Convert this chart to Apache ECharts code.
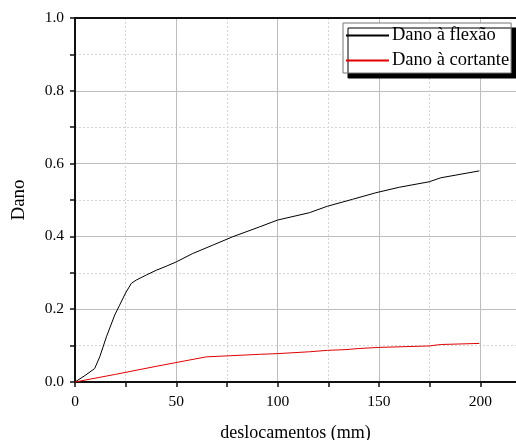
<!DOCTYPE html>
<html><head><meta charset="utf-8">
<script src="https://cdn.jsdelivr.net/npm/echarts@6/dist/echarts.min.js"></script>
<style>html,body{margin:0;padding:0;background:#fff}#c{width:516px;height:440px}</style>
</head><body><div id="c"></div>
<script>
const seriesNames = ['Dano à flexão', 'Dano à cortante'];
const flexao = [[0,0],[5,0.018],[9.7,0.037],[12.2,0.069],[15.5,0.124],[19.6,0.184],[22,0.211],[25,0.245],[27.8,0.271],[30.2,0.28],[35.2,0.294],[40.1,0.307],[45,0.318],[50,0.33],[58.1,0.353],[68,0.376],[77.8,0.399],[91,0.426],[100,0.445],[115.6,0.465],[124.6,0.483],[137,0.502],[148.5,0.52],[160,0.535],[174.7,0.55],[180.5,0.561],[199.5,0.58]];
const cortante = [[0,0],[20,0.021],[40,0.043],[64.7,0.069],[91,0.076],[100,0.078],[115.6,0.083],[124.6,0.087],[133.7,0.089],[140.2,0.092],[149.8,0.095],[174.7,0.099],[180.5,0.103],[199.5,0.106]];
const xTitle = 'deslocamentos (mm)';
const yTitle = 'Dano';

const font = 'Liberation Serif';
const chart = echarts.init(document.getElementById('c'), null, {renderer:'canvas'});
chart.setOption({
  animation:false,
  textStyle:{fontFamily:font},
  grid:{left:75, right:0, top:18, bottom:58, containLabel:false, outerBoundsMode:'none'},
  legend:{
    orient:'vertical', left:343, top:23,
    padding:[3,2,3,2], itemWidth:43, itemHeight:14, itemGap:6,
    backgroundColor:'#fff', borderColor:'#777', borderWidth:1,
    shadowColor:'#000', shadowOffsetX:5, shadowOffsetY:5, shadowBlur:0,
    itemStyle:{opacity:0},
    textStyle:{fontFamily:font, fontSize:18.5, color:'#000', padding:[0,0,0,-2]},
    data: seriesNames
  },
  xAxis:[
    {type:'value', position:'bottom', min:0, max:217.6, interval:25,
     name:xTitle, nameLocation:'middle', nameGap:42,
     nameTextStyle:{fontFamily:font, fontSize:18, color:'#000'},
     axisLine:{show:true, lineStyle:{color:'#111', width:2}},
     axisTick:{show:true, inside:false, length:5, lineStyle:{color:'#111', width:1.5}},
     axisLabel:{fontFamily:font, fontSize:15.5, color:'#000', margin:12, showMaxLabel:false,
       formatter:v=> (Math.abs(v%50)<1e-6 ? String(v) : '')},
     splitLine:{show:true, lineStyle:{color:'#d4d4d4', width:1, type:[2,2]}}
    },
    {type:'value', position:'top', min:0, max:217.6, interval:50,
     axisLine:{show:true, onZero:false, lineStyle:{color:'#111', width:2}},
     axisTick:{show:false}, axisLabel:{show:false},
     splitLine:{show:true, lineStyle:{color:'#bdbdbd', width:1, type:'solid'}}
    }
  ],
  yAxis:[
    {type:'value', position:'left', min:0, max:1, interval:0.1,
     name:yTitle, nameLocation:'middle', nameGap:46, nameRotate:90,
     nameTextStyle:{fontFamily:font, fontSize:19, color:'#000'},
     axisLine:{show:true, lineStyle:{color:'#111', width:2}},
     axisTick:{show:true, inside:false, length:5, lineStyle:{color:'#111', width:1.5}},
     axisLabel:{fontFamily:font, fontSize:15.5, color:'#000', margin:11,
       formatter:v=> (Math.round(v*10)%2===0 ? v.toFixed(1) : '')},
     splitLine:{show:true, lineStyle:{color:'#d4d4d4', width:1, type:[2,2]}}
    },
    {type:'value', position:'right', min:0, max:1, interval:0.2,
     axisLine:{show:false}, axisTick:{show:false}, axisLabel:{show:false},
     splitLine:{show:true, lineStyle:{color:'#bdbdbd', width:1, type:'solid'}}
    }
  ],
  series:[
    {name:seriesNames[0], type:'line', data:flexao, symbol:'none', xAxisIndex:0, yAxisIndex:0,
     lineStyle:{color:'#000', width:1}, itemStyle:{color:'#000'}, z:5},
    {name:seriesNames[1], type:'line', data:cortante, symbol:'none', xAxisIndex:0, yAxisIndex:0,
     lineStyle:{color:'#e00000', width:1}, itemStyle:{color:'#e00000'}, z:5}
  ]
});
</script></body></html>
